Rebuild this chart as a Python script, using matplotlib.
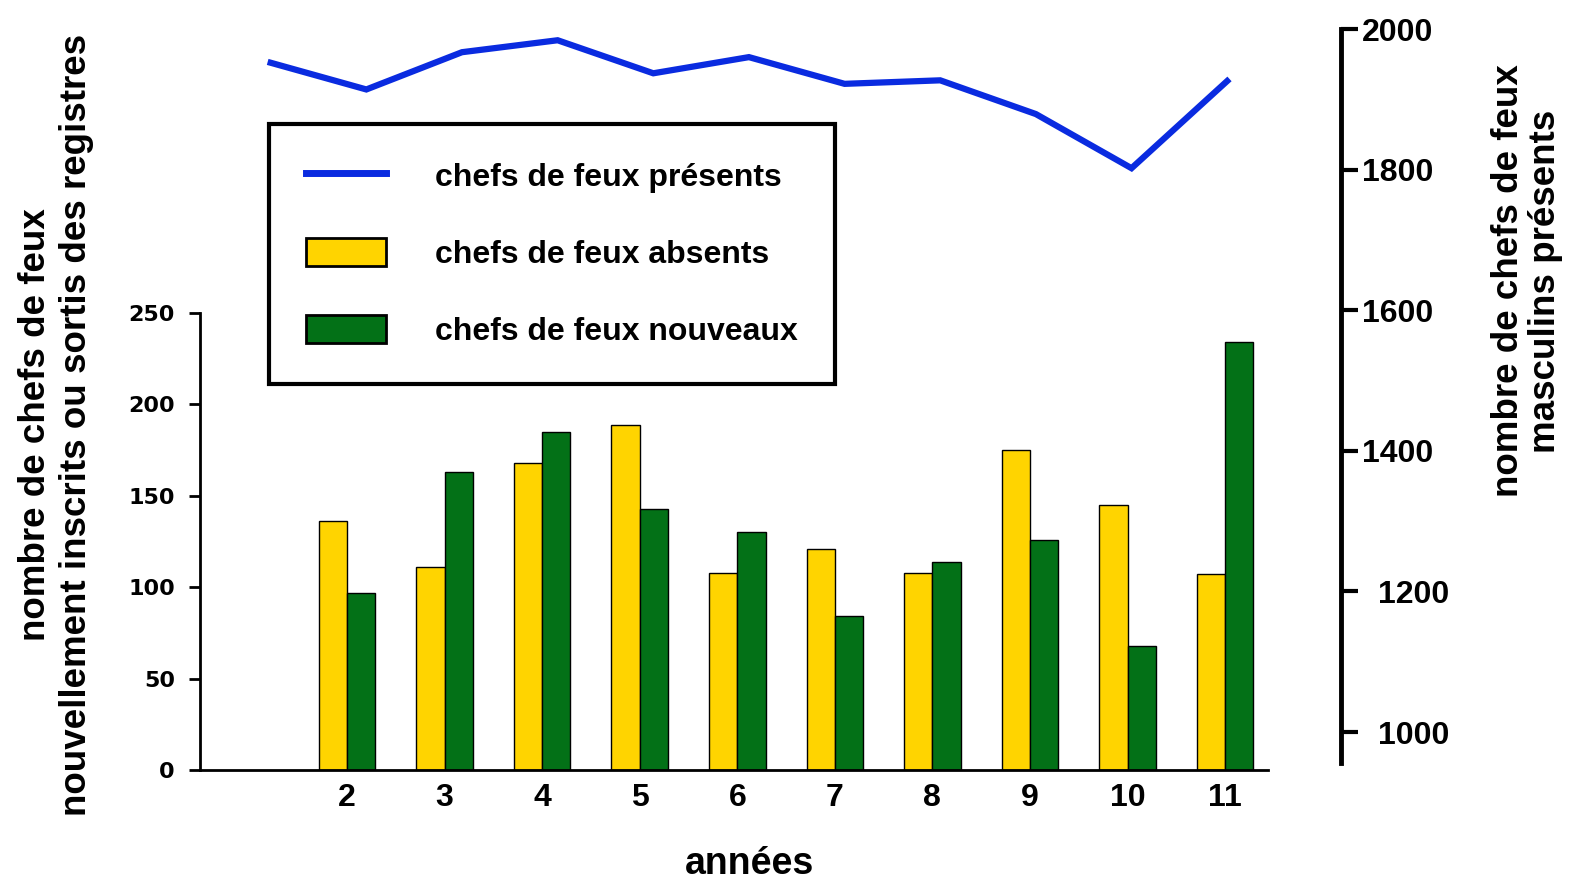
import matplotlib
matplotlib.use("Agg")
import matplotlib.pyplot as plt
from matplotlib.lines import Line2D
from matplotlib.patches import Patch
from matplotlib.transforms import ScaledTranslation
import numpy as np

# data
bar_years = [2, 3, 4, 5, 6, 7, 8, 9, 10, 11]
absents = [136, 111, 168, 189, 108, 121, 108, 175, 145, 107]
nouveaux = [97, 163, 185, 143, 130, 84, 114, 126, 68, 234]

line_years = [1, 2, 3, 4, 5, 6, 7, 8, 9, 10, 11]
presents = [1952, 1914, 1967, 1984, 1937, 1960, 1922, 1927, 1879, 1802, 1926]

left_ticks = [0, 50, 100, 150, 200, 250]
right_ticks = [1000, 1200, 1400, 1600, 1800, 2000]

YELLOW = "#ffd400"
GREEN = "#037117"
BLUE = "#0a2be0"

plt.rcParams["font.family"] = ["Liberation Sans", "DejaVu Sans"]
plt.rcParams["font.weight"] = "bold"

W, H = 1574, 882
fig = plt.figure(figsize=(W / 100, H / 100), dpi=100)

def box(x0, y0, x1, y1):
    # pixel box (top-left origin) -> figure fraction rect
    return [x0 / W, 1 - y1 / H, (x1 - x0) / W, (y1 - y0) / H]

# bars
ax = fig.add_axes(box(200, 313, 1268, 770))
x = np.array(bar_years)
bw = 0.29
ax.bar(x - bw / 2, absents, bw, color=YELLOW, edgecolor="black", linewidth=1)
ax.bar(x + bw / 2, nouveaux, bw, color=GREEN, edgecolor="black", linewidth=1)
ax.set_xlim(0.493, 11.44)
ax.set_ylim(0, 250)
ax.set_yticks(left_ticks)
ax.set_xticks(bar_years)
ax.set_xticklabels([str(v) for v in bar_years], fontsize=23, fontweight="bold")
ax.tick_params(axis="x", length=0, pad=9)
ax.tick_params(axis="y", direction="out", length=8, width=2, pad=10)
for lab in ax.get_yticklabels():
    lab.set_family("DejaVu Sans")
    lab.set_fontsize(16)
    lab.set_fontweight("bold")
for s in ["top", "right"]:
    ax.spines[s].set_visible(False)
ax.spines["left"].set_linewidth(2)
ax.spines["bottom"].set_linewidth(2)
ax.patch.set_alpha(0)

# line on its own right-hand axis
ax2 = fig.add_axes(box(200, 29, 1341, 763))
ax2.plot(line_years, presents, color=BLUE, linewidth=4.5, solid_joinstyle="miter")
ax2.set_xlim(0.261, 12.19)
ax2.set_ylim(956, 2000)
ax2.set_xticks([])
ax2.yaxis.tick_right()
ax2.set_yticks(right_ticks)
ax2.set_yticklabels([str(v) for v in right_ticks], fontsize=23, fontweight="bold")
ax2.tick_params(axis="y", direction="out", length=12, width=3, pad=3)
# the two lowest labels sit a bit further right in the original
for lab in ax2.get_yticklabels()[:2]:
    lab.set_transform(lab.get_transform() + ScaledTranslation(0.16, 0, fig.dpi_scale_trans))
for s in ["top", "left", "bottom"]:
    ax2.spines[s].set_visible(False)
ax2.spines["right"].set_linewidth(3.5)
ax2.patch.set_alpha(0)

# axis titles
fig.text(750 / W, 1 - 864 / H, "années", ha="center", va="center",
         fontsize=27, fontweight="bold")
fig.text(56 / W, 1 - 425 / H,
         "nombre de chefs de feux\nnouvellement inscrits ou sortis des registres",
         rotation=90, ha="center", va="center", fontsize=26.5, fontweight="bold",
         linespacing=1.25)
fig.text(1527 / W, 1 - 281 / H, "nombre de chefs de feux\nmasculins présents",
         rotation=90, ha="center", va="center", fontsize=26.5, fontweight="bold",
         linespacing=1.1)

# legend
handles = [
    Line2D([0], [0], color=BLUE, linewidth=5),
    Patch(facecolor=YELLOW, edgecolor="black", linewidth=2),
    Patch(facecolor=GREEN, edgecolor="black", linewidth=2),
]
labels = ["chefs de feux présents", "chefs de feux absents", "chefs de feux nouveaux"]
leg = fig.legend(handles, labels, loc="upper left",
                 bbox_to_anchor=(269 / W, 1 - 124 / H),
                 prop={"size": 23, "weight": "bold"},
                 handlelength=2.5, handleheight=1.0, handletextpad=1.55,
                 labelspacing=1.4, borderpad=1.15, borderaxespad=0,
                 fancybox=False, framealpha=1)
leg.get_frame().set_edgecolor("black")
leg.get_frame().set_linewidth(3)

fig.savefig("out.png", dpi=100)
